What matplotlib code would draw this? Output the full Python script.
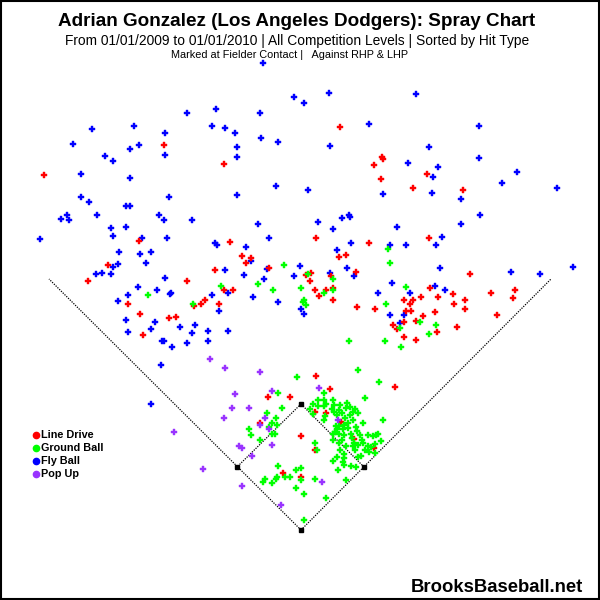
import matplotlib
matplotlib.use("Agg")
import matplotlib.pyplot as plt
from matplotlib.patches import Rectangle

plt.rcParams['font.family'] = ['Liberation Sans', 'DejaVu Sans']

# spray chart positions (image pixel coordinates)
line_drive = [
    (164.3, 145.3), (224.3, 164.3), (44.3, 175.3), (340.3, 127.3), (382.3, 157.3),
    (383.3, 159.3), (374.3, 165.3), (381.3, 179.3), (427, 174.3), (413.3, 188.3),
    (463.3, 190.3), (139.3, 241.3), (230.3, 242.3), (108.3, 265.3), (242.3, 256.3),
    (251.3, 258.3), (246.3, 263.3), (269.3, 268.3), (215.3, 270.3), (88.3, 281.3),
    (187.3, 281.3), (224.3, 290.3), (233.3, 290.3), (205.3, 300.3), (201.3, 304.3),
    (194.3, 306.3), (219.3, 304.3), (128.3, 304.3), (140.3, 314.3), (169.3, 318.3),
    (176.3, 317.3), (143.3, 335.3), (316.3, 238.3), (369.3, 243.3), (429.3, 238.3),
    (339.3, 257.3), (346.3, 255.3), (356.3, 272.3), (470.3, 274.3), (311.3, 273.3),
    (306.3, 275.3), (310.3, 281.3), (331.3, 276.3), (315.3, 290.3), (326.3, 290.3),
    (333.3, 288.3), (319.3, 296.3), (333.3, 300.3), (357.3, 307.3), (375.3, 309.3),
    (430.3, 288.3), (438.3, 297.3), (421.3, 297.3), (413.3, 300.3), (404.3, 300.3),
    (410.3, 304.3), (453.3, 294.3), (465.3, 300.3), (454.3, 304.3), (465.3, 309.3),
    (491.3, 293.3), (515.3, 290.3), (513.3, 298.3), (497.3, 315.3), (406.3, 311.3),
    (411.3, 311.3), (435.3, 312.3), (423.3, 316.3), (393.3, 325.3), (397.3, 329.3),
    (404.3, 322.3), (416.3, 321.3), (437.3, 332.3), (404.3, 337.3), (416.3, 340.3),
    (457.3, 327.3), (316.3, 376.3), (395.3, 387.3), (330.3, 389.3), (268.3, 397.3),
    (290.3, 397.3), (315.3, 412.3), (326.3, 413.3), (341.3, 422.3), (260.3, 423.3),
    (301.3, 436.3), (315.3, 450.3), (354.3, 439.3), (374.3, 448.3), (283.3, 473.3),
    (301.3, 477.3),
]

ground_ball = [
    (284.3, 265.3), (258.3, 284.3), (273.3, 290.3), (221.3, 286.3), (148.3, 295.3),
    (193.3, 304.3), (388.3, 249.3), (390.3, 263.3), (308.3, 274.3), (333.3, 279.3),
    (301.3, 288.3), (333.3, 290.3), (324.3, 293.3), (304.3, 300.3), (303.3, 302.3),
    (306.3, 305.3), (406.3, 287.3), (386.3, 304.3), (420.3, 322.3), (436.3, 325.3),
    (400.3, 328.3), (429.3, 334.3), (349.3, 341.3), (385.3, 341.3), (401.3, 347.3),
    (297.3, 377.3), (358.3, 370.3), (379.3, 382.3), (278.3, 393.3), (365.3, 398.3),
    (324.3, 393.3), (282.3, 408.3), (267.3, 413.3), (276.3, 418.3), (249.3, 429.3),
    (251.3, 435.3), (260.3, 440.3), (269.3, 427.3), (272.3, 423.3), (277.3, 425.3),
    (272.3, 434.3), (275.3, 434.3), (383.3, 420.3), (310.3, 409.3), (313.3, 404.3),
    (318.3, 400.3), (318.3, 406.3), (324.3, 400.3), (324.3, 406.3), (326.3, 404.3),
    (333.3, 400.3), (325.3, 416.3), (324.3, 420.3), (332.3, 409.3), (334.3, 412.3),
    (337.3, 415.3), (340.3, 405.3), (339.3, 410.3), (342.3, 413.3), (346.3, 408.3),
    (347.3, 403.3), (350.3, 407.3), (353.3, 412.3), (355.3, 409.3), (350.3, 415.3),
    (345.3, 418.3), (348.3, 423.3), (353.3, 420.3), (344.3, 425.3), (339.3, 426.3),
    (337.3, 429.3), (343.3, 429.3), (335.3, 432.3), (333.3, 434.3), (339.3, 434.3),
    (344.3, 435.3), (363.3, 423.3), (357.3, 431.3), (351.3, 434.3), (352.3, 438.3),
    (360.3, 435.3), (368.3, 435.3), (373.3, 436.3), (376.3, 435.3), (378.3, 434.3),
    (381.3, 441.3), (354.3, 443.3), (358.3, 445.3), (363.3, 443.3), (368.3, 446.3),
    (371.3, 447.3), (375.3, 444.3), (375.3, 453.3), (365.3, 450.3), (355.3, 450.3),
    (358.3, 457.3), (361.3, 456.3), (353.3, 446.3), (333.3, 440.3), (339.3, 443.3),
    (315.3, 443.3), (317.3, 450.3), (340.3, 450.3), (344.3, 454.3), (337.3, 457.3),
    (344.3, 458.3), (333.3, 461.3), (343.3, 462.3), (344.3, 465.3), (351.3, 466.3),
    (356.3, 467.3), (338.3, 470.3), (346.3, 480.3), (278.3, 466.3), (296.3, 470.3),
    (301.3, 468.3), (285.3, 477.3), (290.3, 477.3), (277.3, 477.3), (276.3, 479.3),
    (265.3, 479.3), (263.3, 482.3), (272.3, 483.3), (301.3, 480.3), (315.3, 479.3),
    (296.3, 488.3), (304.3, 494.3), (326.3, 498.3), (304.3, 520.3), (358.3, 413.3),
    (334.3, 405.3), (313.3, 414.3), (336.3, 426.3), (348.3, 428.3), (356.3, 427.3),
    (362.3, 440.3), (369.3, 452.3), (342.3, 440.3), (346.3, 446.3),
]

fly_ball = [
    (263.3, 63.3), (294.3, 97.3), (187.3, 113.3), (216.3, 109.3), (260.3, 113.3),
    (92.3, 129.3), (134.3, 126.3), (165, 133.3), (212.3, 126.3), (225.3, 128.3),
    (235.3, 133.3), (73.3, 144.3), (139.3, 145.3), (130.3, 149.3), (261.3, 138.3),
    (278.3, 142.3), (237.3, 147.3), (105.3, 156.3), (113.3, 161.3), (165, 155.3),
    (237.3, 157.3), (81, 174.3), (130.3, 178.3), (276.3, 186.3), (81, 197.3),
    (169.3, 197.3), (237.3, 195.3), (329.3, 93.3), (304.3, 103.3), (416.3, 94.3),
    (369.3, 124.3), (479.3, 126.3), (330.3, 146.3), (429.3, 147.3), (408.3, 163.3),
    (438.3, 167.3), (479.3, 158.3), (433.3, 177.3), (517.3, 172.3), (502.3, 183.3),
    (557.3, 188.3), (308.3, 190.3), (383.3, 194.3), (432.3, 193.3), (461.3, 199.3),
    (89.3, 202.3), (126, 206), (130.3, 206), (67.3, 215.3), (61.3, 219.3),
    (69.3, 220.3), (97.3, 215.3), (159.3, 215.3), (164.3, 220.3), (192.3, 220.3),
    (111.3, 228.3), (126.3, 227), (258.3, 224.3), (40.3, 239.3), (113.3, 236.3),
    (142.3, 238.3), (167.3, 238.3), (215.3, 243.3), (217.3, 245.3), (246.3, 247.3),
    (269.3, 238.3), (119.3, 252.3), (140.3, 254.3), (151.3, 252.3), (146.3, 263.3),
    (118.3, 264.3), (113.3, 267.3), (96.3, 274.3), (102.3, 273.3), (111.3, 274.3),
    (225.3, 270.3), (251.3, 261.3), (267.3, 269.3), (244.3, 275.3), (264.3, 279.3),
    (294.3, 276.3), (300, 266.3), (165.3, 278.3), (138.3, 287.3), (157.3, 290.3),
    (171.3, 293.3), (170.3, 294.3), (228.3, 293.3), (212.3, 295.3), (253.3, 297.3),
    (278.3, 302.3), (118.3, 301.3), (128.3, 295.3), (219.3, 311.3), (126.3, 320.3),
    (155.3, 322.3), (180.3, 327.3), (195.3, 325.3), (151.3, 329.3), (128.3, 332.3),
    (192.3, 333.3), (208.3, 331.3), (228.3, 331.3), (162.3, 341.3), (164.3, 341.3),
    (187.3, 343.3), (208.3, 341.3), (172.3, 347.3), (480.3, 215.3), (461.3, 224.3),
    (318.3, 222.3), (342.3, 218.3), (349.3, 215.3), (350.3, 217.3), (333.3, 229.3),
    (397.3, 227.3), (442.3, 237.3), (436.3, 245.3), (351.3, 243.3), (390.3, 245.3),
    (406.3, 245.3), (337.3, 250.3), (347.3, 268.3), (354.3, 276.3), (330.3, 273.3),
    (440.3, 268.3), (511.3, 272.3), (540.3, 274.3), (573.3, 267.3), (392.3, 283.3),
    (435.3, 286.3), (445.3, 290.3), (410.3, 293.3), (378.3, 293.3), (301.3, 309.3),
    (304.3, 314.3), (390.3, 315.3), (404.3, 315.3), (400.3, 323.3), (161, 365),
    (151, 404),
]

pop_up = [
    (210.3, 359.3), (225.3, 368.3), (260.3, 372.3), (235.3, 394), (272.3, 391.3),
    (232.3, 408.3), (249.3, 408.3), (224.3, 418.3), (265.3, 418.3), (260.3, 425.3),
    (269.3, 429.3), (272.3, 445.3), (239.3, 446.3), (242.3, 448.3), (252.3, 456.3),
    (203.3, 469.3), (242.3, 486.3), (281.3, 505.3), (322.3, 482.3), (319.3, 388.3),
    (338.3, 420.3), (174.3, 432.3),
]

hit_types = ['Line Drive', 'Ground Ball', 'Fly Ball', 'Pop Up']
colors = ['#ff0000', '#00ff00', '#0000ff', '#9933ff']

home = (301, 530)
first = (364, 467)
second = (301, 404)
third = (237, 467)
left_pole = (49, 279)
right_pole = (551, 279)

fig = plt.figure(figsize=(6, 6), dpi=100)
ax = fig.add_axes([0, 0, 1, 1])
ax.set_xlim(0, 600)
ax.set_ylim(600, 0)
ax.axis('off')

# field lines
for a, b in [(home, left_pole), (home, right_pole), (first, second), (second, third)]:
    ax.plot([a[0], b[0]], [a[1], b[1]], color='black', lw=0.9, ls=(0, (1, 1)), zorder=1)
for base in [home, first, second, third]:
    ax.plot(base[0], base[1], marker='s', ms=3.5, color='black', ls='none', zorder=2)

# draw in order: fly, line, ground, pop
for pts, c in [(fly_ball, colors[2]), (line_drive, colors[0]),
               (ground_ball, colors[1]), (pop_up, colors[3])]:
    xs = [p[0] for p in pts]
    ys = [p[1] for p in pts]
    ax.plot(xs, ys, marker='P', ms=4, color=c, mec=c, mew=0.3, ls='none', zorder=3)

# titles
ax.text(297, 22, 'Adrian Gonzalez (Los Angeles Dodgers): Spray Chart',
        ha='center', va='center', fontsize=13.6, fontweight='bold')
ax.text(297, 41, 'From 01/01/2009 to 01/01/2010 | All Competition Levels | Sorted by Hit Type',
        ha='center', va='center', fontsize=9.9)
ax.text(290, 55, 'Marked at Fielder Contact |   Against RHP & LHP',
        ha='center', va='center', fontsize=7.8)

# legend
for i, (label, c) in enumerate(zip(hit_types, colors)):
    y = 435 + i * 13
    ax.plot(35.5, y, marker='o', ms=4.5, color=c, ls='none')
    ax.text(41, y, label, ha='left', va='center', fontsize=7.8, fontweight='bold')

ax.text(583, 588, 'BrooksBaseball.net', ha='right', va='center',
        fontsize=13.3, fontweight='bold')

ax.add_patch(Rectangle((0.5, 0.5), 598, 598, fill=False, ec='black', lw=1.5,
                       transform=ax.transData, clip_on=False))

fig.savefig('out.png', dpi=100)
